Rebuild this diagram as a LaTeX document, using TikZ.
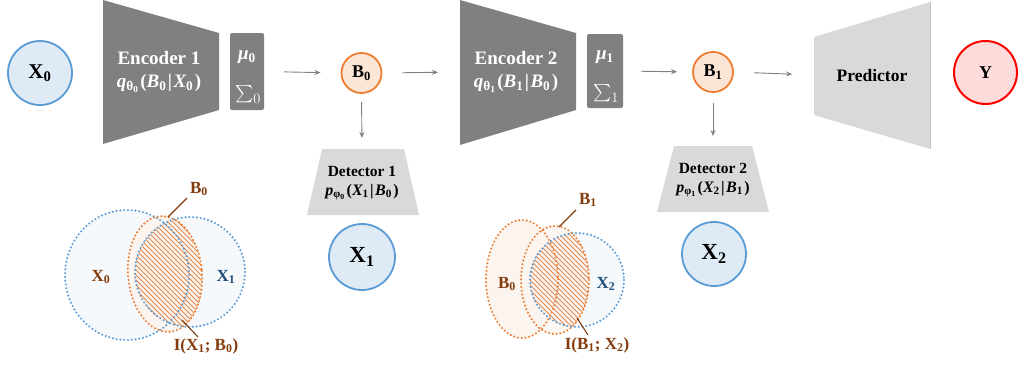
\documentclass[tikz,border=0pt]{standalone}
\usepackage{fontspec}
\setmainfont{Liberation Serif}
\usepackage{amsmath}
\usetikzlibrary{arrows.meta}
\newcommand{\bi}[1]{{\bfseries\itshape #1}}
\newcommand{\sbs}[1]{\textsubscript{\bfseries\upshape #1}}
\newcommand{\up}[1]{{\bfseries\upshape #1}}
\newcommand{\gp}{\kern1.4pt}
\definecolor{encgray}{HTML}{808080}
\definecolor{lgray}{HTML}{D9D9D9}
\definecolor{lgrayedge}{HTML}{C4C4C4}
\definecolor{arrgray}{HTML}{7F7F7F}
\definecolor{cblue}{HTML}{5B9BD5}
\definecolor{cbluefill}{HTML}{DEEAF6}
\definecolor{corange}{HTML}{ED7D31}
\definecolor{corangefill}{HTML}{FBE5D6}
\definecolor{cred}{HTML}{FF0000}
\definecolor{credfill}{HTML}{FFDCDC}
\definecolor{vbrown}{HTML}{843C0C}
\definecolor{vnavy}{HTML}{1F4E79}
\definecolor{vbluefill}{HTML}{F6F9FC}
\definecolor{vorfill}{HTML}{FCF4EE}
\definecolor{hatchc}{HTML}{E28A50}
\begin{document}
\begin{tikzpicture}[x=1pt,y=-1pt,
  arr/.style={draw=arrgray, line width=0.9pt, -{Stealth[length=6pt,width=5pt]}},
  bluec/.style={circle, draw=cblue, fill=cbluefill, line width=1.8pt, inner sep=0pt},
  orangec/.style={circle, draw=corange, fill=corangefill, line width=1.8pt, inner sep=0pt},
  mubox/.style={fill=encgray, rounded corners=2pt, inner sep=0pt},
  wtxt/.style={text=white, inner sep=0pt},
  vdotb/.style={draw=cblue, line width=2.3pt, line cap=round, dash pattern=on 0pt off 3.8pt},
  vdoto/.style={draw=corange, line width=2.3pt, line cap=round, dash pattern=on 0pt off 3.8pt},
  lead/.style={draw=vbrown, line width=1.1pt},
  vlabel/.style={text=vbrown, font=\bfseries\fontsize{17}{20}\selectfont, inner sep=0pt},
  hatch/.style={draw=hatchc, line width=1.0pt}
]
\useasboundingbox (0,0) rectangle (1019,367);

% ---------- top row ----------
\node[bluec, minimum size=64pt, font=\bfseries\fontsize{21}{24}\selectfont] (x0) at (40,73) {X\textsubscript{0}};

\fill[encgray] (103,0) -- (219,33) -- (219,110) -- (103,144) -- cycle;
\node[wtxt, align=center, font=\bfseries\fontsize{19}{22}\selectfont] (enc1) at (159,72)
  {Encoder 1\\[1pt]{\fontsize{19}{20}\selectfont\bi{q}\sbs{θ\textsubscript{0}}\gp\up{(}\bi{B}\sbs{0}\gp\up{|}\gp\bi{X}\sbs{0}\gp\up{)}}};

\node[mubox, minimum width=34pt, minimum height=77pt] (mu0) at (247,71.5) {};
\node[wtxt, font=\fontsize{19}{20}\selectfont] (mu0t) at (247,57) {\bi{μ}\sbs{0}};
\node[wtxt, font=\fontsize{19}{20}\selectfont] (sg0t) at (248,94) {$\sum_0$};

\node[orangec, minimum size=40pt, font=\bfseries\fontsize{18}{20}\selectfont] (b0) at (361.5,73) {B\textsubscript{0}};

\fill[encgray] (460,0) -- (576,33) -- (576,110) -- (460,145) -- cycle;
\coordinate (enc2w) at (460,72);
\node[wtxt, align=center, font=\bfseries\fontsize{19}{22}\selectfont] (enc2) at (516,72)
  {Encoder 2\\[1pt]{\fontsize{19}{20}\selectfont\bi{q}\sbs{θ\textsubscript{1}}\gp\up{(}\bi{B}\sbs{1}\gp\up{|}\gp\bi{B}\sbs{0}\gp\up{)}}};

\node[mubox, minimum width=36pt, minimum height=74pt] (mu1) at (605,71) {};
\node[wtxt, font=\fontsize{19}{20}\selectfont] (mu1t) at (605,57) {\bi{μ}\sbs{1}};
\node[wtxt, font=\fontsize{19}{20}\selectfont] (sg1t) at (606,93) {$\sum_1$};

\node[orangec, minimum size=40pt, font=\bfseries\fontsize{18}{20}\selectfont] (b1) at (713,72) {B\textsubscript{1}};

\fill[lgray] (814,37) -- (930,2) -- (930,149) -- (814,115) -- cycle;
\draw[lgrayedge, line width=0.8pt] (930,2) -- (930,149);
\coordinate (predw) at (814,75);
\node[font=\bfseries\fontsize{17.5}{20}\selectfont] (pred) at (872,76) {Predictor};

\node[circle, draw=cred, fill=credfill, line width=2pt, inner sep=0pt, minimum size=63pt,
  font=\bfseries\fontsize{18}{20}\selectfont] (y) at (985.5,72.5) {Y};

% detectors
\fill[lgray] (322,149) -- (404,149) -- (419,215) -- (307,215) -- cycle;
\coordinate (det1n) at (362,149);
\node[align=center, inner sep=0pt, font=\bfseries\fontsize{15.5}{18}\selectfont] (det1) at (362,183)
  {Detector 1\\[1pt]{\fontsize{16}{17}\selectfont\bi{p}\sbs{φ\textsubscript{0}}\gp\up{(}\bi{X}\sbs{1}\gp\up{|}\gp\bi{B}\sbs{0}\gp\up{)}}};
\node[bluec, minimum size=66pt, font=\bfseries\fontsize{23}{26}\selectfont] (x1) at (362,257) {X\textsubscript{1}};

\fill[lgray] (674,146) -- (752,146) -- (769,212) -- (657,212) -- cycle;
\coordinate (det2n) at (713,146);
\node[align=center, inner sep=0pt, font=\bfseries\fontsize{15.5}{18}\selectfont] (det2) at (713,180)
  {Detector 2\\[1pt]{\fontsize{16}{17}\selectfont\bi{p}\sbs{φ\textsubscript{1}}\gp\up{(}\bi{X}\sbs{2}\gp\up{|}\gp\bi{B}\sbs{1}\gp\up{)}}};
\node[bluec, minimum size=64pt, font=\bfseries\fontsize{23}{26}\selectfont] (x2) at (714,254) {X\textsubscript{2}};

% arrows
\draw[arr, shorten <=20pt, shorten >=20pt] (mu0.east) -- (b0.west);
\draw[arr, shorten <=20pt, shorten >=22pt] (b0.east) -- (enc2w);
\draw[arr, shorten <=18pt, shorten >=15pt] (mu1.east) -- (b1.west);
\draw[arr, shorten <=20pt, shorten >=22pt] (b1.east) -- (predw);
\draw[arr, shorten <=8pt, shorten >=11pt] (b0.south) -- (det1n);
\draw[arr, shorten <=10pt, shorten >=10pt] (b1.south) -- (det2n);

% ---------- Venn 1 ----------
\fill[vbluefill] (127,275) ellipse [x radius=62, y radius=65];
\fill[vbluefill] (190,272) circle [radius=55];
\fill[vorfill, rotate around={5:(165,274)}] (165,274) ellipse [x radius=37, y radius=58];
\begin{scope}
  \clip[rotate around={5:(165,274)}] (165,274) ellipse [x radius=37, y radius=58];
  \clip (190,272) circle [radius=55];
  \foreach \k in {-40,...,40} \draw[hatch] ({165+\k*5-100},174) -- ++(200,200);
\end{scope}
\draw[vdotb] (127,275) ellipse [x radius=62, y radius=65];
\draw[vdotb] (190,272) circle [radius=55];
\draw[vdoto, rotate around={5:(165,274)}] (165,274) ellipse [x radius=37, y radius=58];

\node[vlabel] (vx0) at (101,277) {X\textsubscript{0}};
\node[vlabel, text=vnavy] (vx1) at (226,277) {X\textsubscript{1}};
\node[vlabel] (vb0) at (199,189) {B\textsubscript{0}};
\node[vlabel] (vi1) at (206,346) {I(X\textsubscript{1}; B\textsubscript{0})};
\coordinate (l1a) at (187,198);
\coordinate (l1b) at (168,217);
\coordinate (l2a) at (182,320);
\coordinate (l2b) at (198,337);
\draw[lead] (l1a) -- (l1b);
\draw[lead] (l2a) -- (l2b);

% ---------- Venn 2 ----------
\fill[vorfill] (522,279) ellipse [x radius=36, y radius=59];
\fill[vbluefill] (577,280) circle [radius=47];
\fill[vorfill, opacity=0.7] (555,280) ellipse [x radius=34, y radius=54];
\begin{scope}
  \clip (555,280) ellipse [x radius=34, y radius=54];
  \clip (577,280) circle [radius=47];
  \foreach \k in {-40,...,40} \draw[hatch] ({555+\k*5-100},180) -- ++(200,200);
\end{scope}
\draw[vdoto] (522,279) ellipse [x radius=36, y radius=59];
\draw[vdotb] (577,280) circle [radius=47];
\draw[vdoto] (555,280) ellipse [x radius=34, y radius=54];

\node[vlabel] (wb0) at (507,284) {B\textsubscript{0}};
\node[vlabel, text=vnavy] (wx2) at (606,284) {X\textsubscript{2}};
\node[vlabel] (wb1) at (588,200) {B\textsubscript{1}};
\node[vlabel] (wi) at (597,345) {I(B\textsubscript{1}; X\textsubscript{2})};
\coordinate (m1a) at (576,210);
\coordinate (m1b) at (559,227);
\coordinate (m2a) at (577,318);
\coordinate (m2b) at (588,335);
\draw[lead] (m1a) -- (m1b);
\draw[lead] (m2a) -- (m2b);
\end{tikzpicture}
\end{document}
